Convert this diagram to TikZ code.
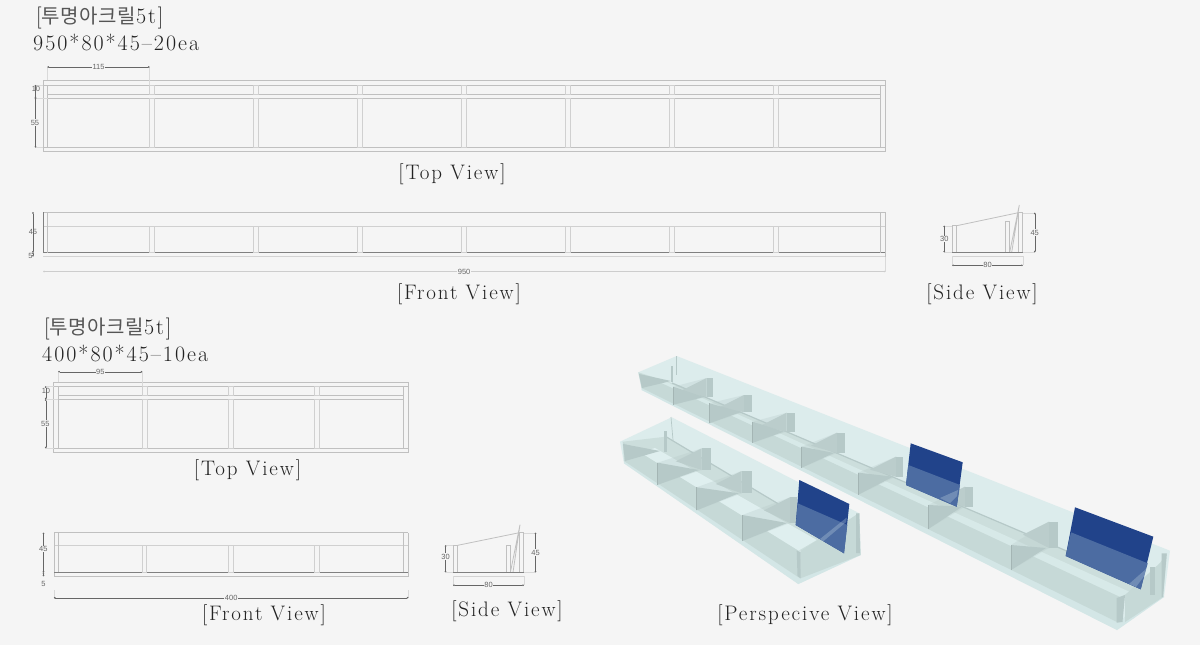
\documentclass[tikz,border=0pt]{standalone}
\usepackage{fontspec}
\usetikzlibrary{arrows.meta}
\newfontfamily\krfont[LetterSpace=3]{Noto Sans CJK KR}
\newfontfamily\capfont[LetterSpace=9]{Latin Modern Roman}
\setsansfont{Liberation Sans}
\definecolor{bgcol}{HTML}{F5F5F5}
\definecolor{linecol}{HTML}{C0C0C0}
\definecolor{darkline}{HTML}{808080}
\definecolor{dimcol}{HTML}{666666}
\definecolor{txtcol}{HTML}{222222}
\definecolor{krcol}{HTML}{555555}
\definecolor{glass}{HTML}{DCECEC}
\definecolor{rim}{HTML}{D3E6E6}
\definecolor{floorcol}{HTML}{CCDEDC}
\definecolor{wallcol}{HTML}{C6D9D7}
\definecolor{stripcol}{HTML}{DFEFEF}
\definecolor{striplong}{HTML}{D7E9E8}
\definecolor{partcol}{HTML}{B6C9C8}
\definecolor{postcol}{HTML}{BBCDCC}
\definecolor{blueup}{HTML}{21438A}
\definecolor{bluelow}{HTML}{4C6CA2}
\tikzset{
  wall/.style={draw=linecol,line width=0.8pt},
  midline/.style={draw=linecol!75,line width=0.8pt},
  base/.style={draw=darkline,line width=0.8pt},
  soft/.style={draw=linecol!70,line width=1pt},
  dimen/.style={draw=dimcol,line width=0.35pt,{Circle[length=1.6pt]}-{Circle[length=1.6pt]}},
  extline/.style={draw=linecol!60,line width=0.4pt},
  dimtext/.style={font=\sffamily\fontsize{7.5}{8}\selectfont,text=dimcol,inner sep=0.6pt,fill=bgcol},
  heading/.style={font=\capfont\fontsize{22}{24}\selectfont,text=txtcol,inner sep=0pt,anchor=west},
  caption/.style={font=\capfont\fontsize{21}{24}\selectfont,text=txtcol,inner sep=0pt},
}
% one partition of the perspective troughs
\newcommand{\partition}[7]{
  \fill[partcol,opacity=0.3] (#1,#2) -- (#4,#5) -- (#4,#6) -- (#1,#2+#3) -- cycle;
  \fill[postcol] (#4-26,#5+13) -- (#4,#5) -- (#4,#6) -- cycle;
  \fill[partcol] (#4,#5) rectangle (#4+#7,#6);
  \fill[partcol] (#1,#2) -- (#1,#2+#3) -- (#4-3,#6) -- cycle;
  \draw[partcol!90!black,line width=0.5pt] (#1,#2) -- (#1,#2+#3);
}
\begin{document}
\begin{tikzpicture}[x=1pt,y=-1pt]
  \useasboundingbox (0,0) rectangle (1200,645);
  \fill[bgcol] (0,0) rectangle (1200,645);

  % long tray, top view
  \draw[wall] (43.3,80) rectangle (885,151.5);
  \draw[wall] (43.3,85) -- (885,85);
  \draw[wall] (47.5,94.5) -- (880,94.5);
  \draw[wall] (47.5,98) -- (880,98);
  \draw[wall] (43.3,147.5) -- (885,147.5);
  \draw[wall] (47.5,85) -- (47.5,147.5);
  \draw[wall] (880,85) -- (880,147.5);
  \foreach \px in {149.5,253.5,357.5,461.5,565.5,669.5,773.5}{
    \draw[midline] (\px,85) rectangle (\px+4.5,94.5);
    \draw[midline] (\px,98) rectangle (\px+4.5,147.5);
  }
  \draw[extline] (149.5,67) -- (149.5,85);
  \draw[extline] (47.5,67) -- (47.5,80);
  \draw[extline] (35.5,85) -- (43.3,85);
  \draw[extline] (35.5,98) -- (47.5,98);
  \draw[extline] (35.5,147.5) -- (43.3,147.5);
  \draw[dimen] (47.5,67) -- node[dimtext] (d115) {115} (149.5,67);
  \draw[dimen] (35.5,85) -- (35.5,98);
  \draw[dimen] (35.5,98) -- (35.5,147.5);
  \node[dimtext,fill=none] (d10a) at (36,89) {10};
  \node[dimtext] (d55a) at (35,122.5) {55};
  \node[caption] (toplong) at (452,174.5) {[Top View]};

  % long tray, front view
  \draw[wall] (43.3,212.3) -- (885,212.3);
  \draw[midline] (43.3,226) -- (885,226);
  \draw[base] (43.3,212.3) -- (43.3,252.5) -- (885,252.5);
  \draw[wall] (47.6,212.3) -- (47.6,252.5);
  \draw[wall] (880,212.3) -- (880,252.5);
  \draw[wall] (885,212.3) -- (885,256.5);
  \draw[soft] (43.3,256.5) -- (885,256.5);
  \foreach \px in {149.5,253.5,357.5,461.5,565.5,669.5,773.5}{
    \draw[midline] (\px,226) rectangle (\px+4.5,252.5);
  }
  \draw[extline] (885,256.5) -- (885,271.5);
  \draw[dimen,draw=linecol!80,line width=0.7pt] (43.3,271.5) -- node[dimtext] (d950) {950} (885,271.5);
  \draw[dimen] (33,212.3) -- (33,252.5);
  \draw[dimen] (33,252.5) -- (33,256.5);
  \node[dimtext,fill=none] (d45a) at (33,231.5) {45};
  \node[dimtext,fill=none] (d5a) at (30.5,255.5) {5};
  \node[caption] (frontlong) at (459,294.5) {[Front View]};

  % long tray, side view
  \draw[wall] (956.7,225.7) -- (1018.3,212.7);
  \draw[wall] (952.3,225.7) rectangle (956.7,252.3);
  \draw[wall] (1018.3,212.7) rectangle (1022.7,252.3);
  \draw[wall] (1005.3,221.3) rectangle (1009.7,252.3);
  \draw[wall] (1009.7,252.3) -- (1019.3,205) -- (1011.7,252.3);
  \draw[base] (952.3,252.3) -- (1022.7,252.3);
  \draw[soft] (952.3,256) -- (1022.7,256);
  \draw[extline] (944.3,225.7) -- (952.3,225.7);
  \draw[extline] (944.3,252.3) -- (952.3,252.3);
  \draw[extline] (1022.7,212.7) -- (1034.7,212.7);
  \draw[extline] (1022.7,252.3) -- (1034.7,252.3);
  \draw[extline] (952.3,256) -- (952.3,265.3);
  \draw[extline] (1022.7,256) -- (1022.7,265.3);
  \draw[dimen] (944.3,225.7) -- node[dimtext] (d30a) {30} (944.3,252.3);
  \draw[dimen] (1034.7,212.7) -- node[dimtext] (d45b) {45} (1034.7,252.3);
  \draw[dimen] (952.3,265.3) -- node[dimtext] (d80a) {80} (1022.7,265.3);
  \node[caption] (sidelong) at (982,294.5) {[Side View]};

  % short tray, top view
  \draw[wall] (53.7,382.3) rectangle (408.3,452.7);
  \draw[wall] (53.7,386.3) -- (408.3,386.3);
  \draw[wall] (58.3,395.3) -- (403.3,395.3);
  \draw[wall] (58.3,399.3) -- (403.3,399.3);
  \draw[wall] (53.7,448.3) -- (408.3,448.3);
  \draw[wall] (58.3,386.3) -- (58.3,448.3);
  \draw[wall] (403.3,386.3) -- (403.3,448.3);
  \foreach \px in {142.3,228.5,314.8}{
    \draw[midline] (\px,386.3) rectangle (\px+4.6,395.3);
    \draw[midline] (\px,399.3) rectangle (\px+4.6,448.3);
  }
  \draw[extline] (142.3,371.7) -- (142.3,386.3);
  \draw[extline] (58.3,371.7) -- (58.3,382.3);
  \draw[extline] (45.7,386.3) -- (53.7,386.3);
  \draw[extline] (45.7,399.3) -- (58.3,399.3);
  \draw[extline] (45.7,448.3) -- (53.7,448.3);
  \draw[dimen] (58.3,371.7) -- node[dimtext] (d95) {95} (142.3,371.7);
  \draw[dimen] (45.7,386.3) -- (45.7,399.3);
  \draw[dimen] (45.7,399.3) -- (45.7,448.3);
  \node[dimtext,fill=none] (d10b) at (46,390.7) {10};
  \node[dimtext] (d55b) at (45.3,423.7) {55};
  \node[caption] (topshort) at (247.5,470.5) {[Top View]};

  % short tray, front view
  \draw[wall] (54,532.7) -- (408.4,532.7);
  \draw[midline] (54,545.3) -- (408.4,545.3);
  \draw[wall] (54,532.7) -- (54,576.3) -- (408.4,576.3) -- (408.4,532.7);
  \draw[base] (54,572.3) -- (408.4,572.3);
  \draw[wall] (58.6,532.7) -- (58.6,572.3);
  \draw[wall] (403.3,532.7) -- (403.3,572.3);
  \foreach \px in {142.2,228.3,314.8}{
    \draw[midline] (\px,545.3) rectangle (\px+4.6,572.3);
  }
  \draw[extline] (54,590) -- (54,597.7);
  \draw[extline] (408.4,590) -- (408.4,597.7);
  \draw[dimen] (54,597.7) -- node[dimtext] (d400) {400} (408.4,597.7);
  \draw[dimen] (43.4,532.7) -- (43.4,572.3);
  \draw[dimen] (43.4,572.3) -- (43.4,576.3);
  \node[dimtext] (d45c) at (43.4,549) {45};
  \node[dimtext] (d5b) at (43.4,584) {5};
  \node[caption] (frontshort) at (264,615.5) {[Front View]};

  % short tray, side view
  \draw[wall] (457.7,545.3) -- (519.3,532.7);
  \draw[wall] (453.2,545.3) rectangle (457.7,572.3);
  \draw[wall] (519.3,532.7) rectangle (523.8,572.3);
  \draw[wall] (506.2,545.3) rectangle (510.4,572.3);
  \draw[wall] (510.4,572.3) -- (520,524.7) -- (513,572.3);
  \draw[base] (453.2,572.3) -- (523.8,572.3);
  \draw[soft] (453.2,576.3) -- (523.8,576.3);
  \draw[extline] (445.6,545.3) -- (453.2,545.3);
  \draw[extline] (445.6,572.3) -- (453.2,572.3);
  \draw[extline] (523.8,532.7) -- (535.5,532.7);
  \draw[extline] (523.8,572.3) -- (535.5,572.3);
  \draw[extline] (453.2,576.3) -- (453.2,585.3);
  \draw[extline] (523.8,576.3) -- (523.8,585.3);
  \draw[dimen] (445.6,545.3) -- node[dimtext,pos=0.42] (d30b) {30} (445.6,572.3);
  \draw[dimen] (535.5,532.7) -- node[dimtext,pos=0.5] (d45d) {45} (535.5,572.3);
  \draw[dimen] (453.2,585.3) -- node[dimtext,pos=0.5] (d80b) {80} (523.8,585.3);
  \node[caption] (sideshort) at (507,611.5) {[Side View]};

  % long tray, perspective
  \fill[glass] (676.7,356) -- (1170,550.7) -- (1164,597) -- (1117,630) -- (641.7,390) -- (638.3,372.3) -- cycle;
  \fill[rim] (641.7,390) -- (1117,630) -- (1164,597) -- (1163,592) -- (1117,622) -- (642,384) -- cycle;
  \fill[floorcol] (672,383) -- (1163,592) -- (1120,597) -- (638.3,372.3) -- cycle;
  \fill[striplong] (660,379) -- (1130,592) -- (1120,597) -- (650,378) -- cycle;
  \draw[partcol,line width=1.2pt] (672,383) -- (1163,592);
  \fill[wallcol] (638.3,372.3) -- (1120,597) -- (1117,622) -- (641.7,388) -- cycle;
  \fill[partcol] (639,374) -- (642,388) -- (671,381) -- cycle;
  \fill[partcol] (671,366) rectangle (673.3,381.7);
  \draw[partcol,line width=0.7pt] (676.7,356) -- (676.7,375);
  \partition{673.3}{386.7}{18}{706.7}{378}{397}{6.5}
  \partition{709.3}{403.3}{20}{744}{395}{412}{7.5}
  \partition{752.7}{421.7}{21}{786.7}{412.7}{431.7}{8}
  \partition{801.7}{446.7}{21}{837}{432.7}{453}{8}
  \partition{858.3}{472.7}{22}{896}{456.7}{476.7}{7}
  \partition{928.3}{505}{24}{965}{486.7}{506.7}{8}
  \partition{1011}{545}{25}{1049}{521.7}{548}{9}
  \fill[wallcol] (1125,595) -- (1160,563) -- (1167,553) -- (1163,597) -- (1125,622) -- cycle;
  \fill[partcol] (1150,566.7) rectangle (1155,595);
  \fill[partcol] (1161.7,553.3) -- (1166.7,553.3) -- (1163,597) -- (1161.7,597) -- cycle;
  \fill[partcol] (1116.7,598) -- (1125,595) -- (1122.5,622) -- (1116.7,622.7) -- cycle;
  % blue plates of the long tray
  \fill[blueup] (910.7,443.3) -- (962.7,462.3) -- (956.7,506.7) -- (906,485) -- cycle;
  \fill[bluelow] (908.3,465) -- (960,485) -- (956.7,506.7) -- (906,485) -- cycle;
  \fill[stripcol,opacity=0.25] (940,498) -- (958,490) -- (957,496) -- (950,503) -- cycle;
  \fill[blueup] (1075,507.3) -- (1153.3,536.7) -- (1140.7,589.3) -- (1065.7,556) -- cycle;
  \fill[bluelow] (1071,532.3) -- (1147.7,563.3) -- (1140.7,589.3) -- (1065.7,556) -- cycle;
  \fill[stripcol,opacity=0.25] (1129,584) -- (1146,569) -- (1145,575) -- (1136,587) -- cycle;

  % short tray, perspective
  \fill[glass] (671.7,417.3) -- (859.3,513.3) -- (860.7,555) -- (798.3,584) -- (624,463.3) -- (620,441.7) -- cycle;
  \fill[rim] (624,463.3) -- (798.3,584) -- (860.7,555) -- (860,552) -- (800,578.3) -- (624,458) -- cycle;
  \fill[floorcol] (666,436.7) -- (858.3,551.7) -- (798.3,550.7) -- (622.7,441.7) -- cycle;
  \fill[stripcol] (655,448) -- (816.7,540) -- (798.3,550.7) -- (640,452.4) -- cycle;
  \draw[partcol,line width=1.2pt] (666,436.7) -- (858.3,551.7);
  \fill[wallcol] (622.7,441.7) -- (798.3,550.7) -- (800,578.3) -- (624,461) -- cycle;
  \fill[partcol] (623,444) -- (625,461) -- (660,451) -- cycle;
  \fill[partcol] (664,430.7) rectangle (667,451.7);
  \draw[partcol,line width=0.7pt] (671,417) -- (673,440);
  \partition{657.7}{462.7}{22}{701.7}{448.3}{470}{9}
  \partition{696.7}{487.3}{23}{741.7}{471}{493.3}{10}
  \partition{742.3}{515}{26}{790}{497.3}{523}{7}
  \fill[wallcol] (800.7,551) -- (856,515) -- (859.3,513.3) -- (860.7,555) -- (800,578.5) -- cycle;
  \fill[partcol] (856,513.3) -- (859.3,513.3) -- (860,553) -- (856,553) -- cycle;
  \fill[partcol] (796.7,550.7) -- (800.7,552) -- (800.7,578.3) -- (797.5,576) -- cycle;
  \fill[blueup] (799.3,480) -- (849.3,504) -- (844,553.3) -- (795.7,525) -- cycle;
  \fill[bluelow] (797.7,503.3) -- (847.3,525) -- (844,553.3) -- (795.7,525) -- cycle;
  \fill[stripcol,opacity=0.25] (820,539) -- (846.7,517.5) -- (846.2,522) -- (823,541.5) -- cycle;
  \node[caption] (perspview) at (805,615.5) {[Perspecive View]};

  % headings
  \node[heading] (titlelong) at (36,18) {[{\krfont\color{krcol}\fontsize{20}{24}\selectfont 투명아크릴}5t]};
  \node[heading] (sizelong) at (33,42.5) {950*80*45–20ea};
  \node[heading] (titleshort) at (44,329) {[{\krfont\color{krcol}\fontsize{20}{24}\selectfont 투명아크릴}5t]};
  \node[heading] (sizeshort) at (42,353.5) {400*80*45–10ea};
\end{tikzpicture}
\end{document}
